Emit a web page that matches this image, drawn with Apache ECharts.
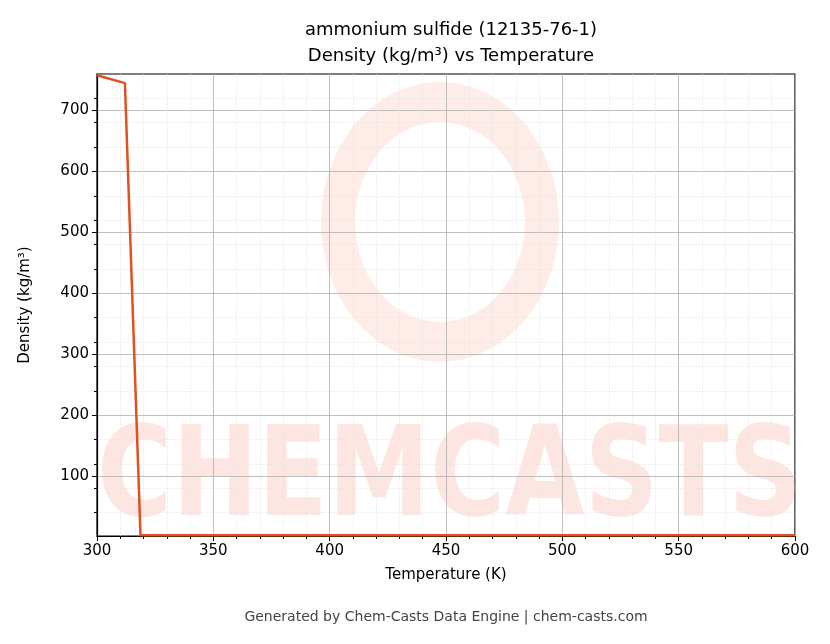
<!DOCTYPE html>
<html><head><meta charset="utf-8">
<script src="https://cdn.jsdelivr.net/npm/echarts@6/dist/echarts.min.js"></script>
<style>html,body{margin:0;background:#fff}#c{width:830px;height:644px}</style>
</head><body><div id="c"></div>
<script>
const temperatures = [300, 312, 318.7, 350, 400, 450, 500, 550, 600];
const densities = [758, 745, 3, 3, 3, 3, 3, 3, 3];
const xTicks = [300, 350, 400, 450, 500, 550, 600];
const yTicks = [100, 200, 300, 400, 500, 600, 700];

const chart = echarts.init(document.getElementById('c'));
const font = 'DejaVu Sans';
chart.setOption({
  animation: false,
  title: {text: 'ammonium sulfide (12135-76-1)\nDensity (kg/m³) vs Temperature', left: 446, top: 12, textAlign: 'center',
    textStyle: {fontFamily: font, fontSize: 18, fontWeight: 'normal', color: '#000', lineHeight: 26}},
  graphic: [
    {type: 'text', x: 97, y: 420, scaleX: 0.82, style: {text: 'CHEMCASTS', fontFamily: font, fontSize: 125, fontWeight: 'bold', fill: 'rgba(250,200,190,0.45)'}, z: 0},
    {type: 'ring', shape: {cx: 440, cy: 222, r: 140, r0: 100}, scaleX: 0.85, originX: 440, originY: 222, style: {fill: 'rgba(250,200,190,0.35)'}, z: 0},
    {type: 'text', x: 446, y: 610, style: {text: 'Generated by Chem-Casts Data Engine | chem-casts.com', fontFamily: font, fontSize: 14, fill: '#444', align: 'center'}}
  ],
  grid: {left: 97, right: 35, top: 74, bottom: 108, show: true, borderColor: '#000', borderWidth: 1.2, backgroundColor: 'transparent'},
  xAxis: {type: 'value', min: 300, max: 600, interval: 50, name: 'Temperature (K)', nameLocation: 'middle', nameGap: 32,
    nameTextStyle: {fontFamily: font, fontSize: 15, color: '#000'},
    axisLine: {show: true, lineStyle: {color: '#000', width: 1.2}},
    axisTick: {show: true, length: 5, lineStyle: {color: '#000'}},
    minorTick: {show: true, splitNumber: 5, length: 3, lineStyle: {color: '#000'}},
    axisLabel: {fontFamily: font, fontSize: 15, color: '#000', margin: 8, customValues: xTicks},
    splitLine: {show: true, lineStyle: {color: '#b0b0b0', width: 0.8}},
    minorSplitLine: {show: true, lineStyle: {color: '#e4e4e4', type: 'dashed', width: 0.6}}},
  yAxis: {type: 'value', min: 1.6, max: 760, name: 'Density (kg/m³)', nameLocation: 'middle', nameGap: 64,
    nameTextStyle: {fontFamily: font, fontSize: 15, color: '#000'},
    axisLine: {show: true, lineStyle: {color: '#000', width: 1.2}},
    axisTick: {show: true, length: 5, lineStyle: {color: '#000'}, customValues: yTicks},
    minorTick: {show: true, splitNumber: 5, length: 3, lineStyle: {color: '#000'}},
    axisLabel: {fontFamily: font, fontSize: 15, color: '#000', margin: 8, customValues: yTicks},
    splitLine: {show: true, lineStyle: {color: '#b0b0b0', width: 0.8}},
    minorSplitLine: {show: true, lineStyle: {color: '#e4e4e4', type: 'dashed', width: 0.6}}},
  series: [{type: 'line', data: temperatures.map((t, i) => [t, densities[i]]), symbol: 'none',
    lineStyle: {color: '#e05020', width: 2.5}, z: 5}]
});
</script></body></html>
